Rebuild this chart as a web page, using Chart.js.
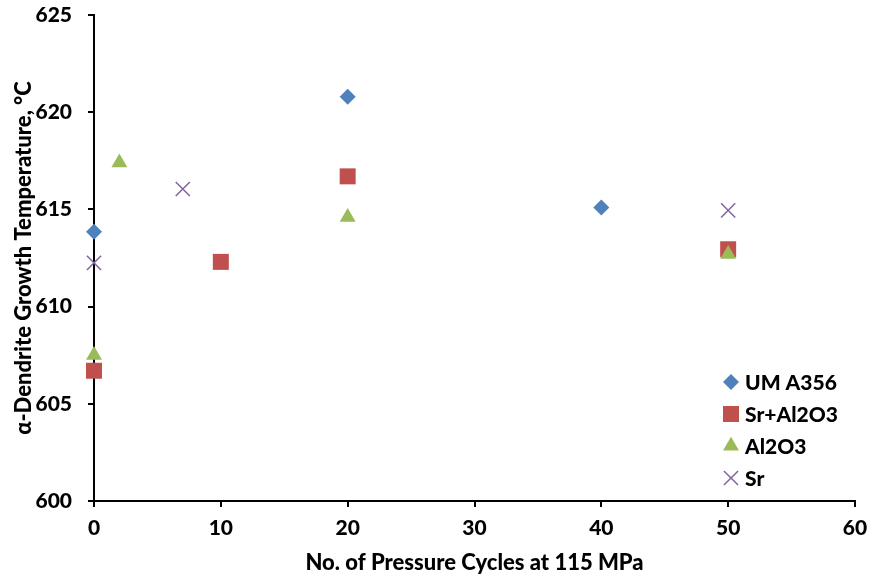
<!DOCTYPE html>
<html>
<head>
<meta charset="utf-8">
<script src="https://cdn.jsdelivr.net/npm/chart.js@4.4.1/dist/chart.umd.min.js"></script>
<style>
  html, body { margin: 0; padding: 0; background: #fff; }
  #wrap { width: 870px; height: 579px; position: relative; }
</style>
</head>
<body>
<div id="wrap"><canvas id="tempChart"></canvas></div>
<script>
// ── Data ─────────────────────────────────────────────────────
const seriesNames = ['UM A356', 'Sr+Al2O3', 'Al2O3', 'Sr'];

const cyclesUM   = [0, 20, 40];
const tempUM     = [613.85, 620.8, 615.1];

const cyclesSrAl = [0, 10, 20, 50];
const tempSrAl   = [606.7, 612.3, 616.7, 612.95];

const cyclesAl   = [0, 2, 20, 50];
const tempAl     = [607.5, 617.4, 614.6, 612.7];

const cyclesSr   = [0, 7, 50];
const tempSr     = [612.25, 616.05, 614.95];

const xTicks = [0, 10, 20, 30, 40, 50, 60];
const yTicks = [600, 605, 610, 615, 620, 625];

// ── Helpers ──────────────────────────────────────────────────
const FONT = "Lato, 'Open Sans', sans-serif";
const WEIGHT = 900;
const pts = (xs, ys) => xs.map((x, i) => ({ x, y: ys[i] }));

// legend drawn inside the plot, lower right
const floatingLegend = {
  id: 'floatingLegend',
  afterDraw(chart) {
    const { ctx, chartArea } = chart;
    const mx = chartArea.right - 124;
    ctx.save();
    ctx.font = WEIGHT + ' 21px ' + FONT;
    ctx.textBaseline = 'middle';
    ctx.textAlign = 'left';
    chart.data.datasets.forEach((ds, i) => {
      const y = chartArea.top + 367 + i * 32;
      ctx.fillStyle = ds.backgroundColor;
      ctx.strokeStyle = ds.borderColor;
      ctx.lineWidth = ds.borderWidth;
      Chart.helpers.drawPoint(ctx, {
        pointStyle: ds.pointStyle,
        radius: ds.pointRadius,
        borderWidth: ds.borderWidth,
        rotation: 0,
      }, mx, y);
      ctx.fillStyle = '#000';
      ctx.fillText(ds.label, mx + 14, y + 1);
    });
    ctx.restore();
  },
};

// ── Chart ────────────────────────────────────────────────────
const ctx = document.getElementById('tempChart').getContext('2d');

// later series sit on top of earlier ones, hence the descending `order`
const chart = new Chart(ctx, {
  type: 'scatter',
  data: {
    datasets: [
      {
        label: seriesNames[0],
        data: pts(cyclesUM, tempUM),
        order: 3,
        pointStyle: 'rectRot',
        pointRadius: 8,
        backgroundColor: '#4F81BD',
        borderColor: '#4F81BD',
        borderWidth: 0,
      },
      {
        label: seriesNames[1],
        data: pts(cyclesSrAl, tempSrAl),
        order: 2,
        pointStyle: 'rect',
        pointRadius: 11.3,
        backgroundColor: '#C0504D',
        borderColor: '#C0504D',
        borderWidth: 0,
      },
      {
        label: seriesNames[2],
        data: pts(cyclesAl, tempAl),
        order: 1,
        pointStyle: 'triangle',
        pointRadius: 9.2,
        backgroundColor: '#9BBB59',
        borderColor: '#9BBB59',
        borderWidth: 0,
      },
      {
        label: seriesNames[3],
        data: pts(cyclesSr, tempSr),
        order: 0,
        pointStyle: 'crossRot',
        pointRadius: 10,
        backgroundColor: '#8064A2',
        borderColor: '#8064A2',
        borderWidth: 1.5,
      },
    ],
  },
  options: {
    responsive: true,
    maintainAspectRatio: false,
    animation: false,
    clip: false,
    layout: { padding: { top: 15, right: 15, left: 0, bottom: 0 } },
    elements: { point: { hoverRadius: 8 } },
    scales: {
      x: {
        type: 'linear',
        min: 0,
        max: 60,
        afterBuildTicks: s => { s.ticks = xTicks.map(v => ({ value: v })); },
        afterFit: s => {
          s.height = 78;
          s.paddingLeft = 0;
          s.paddingRight = 0;
        },
        ticks: {
          color: '#000',
          font: { family: FONT, size: 21, weight: WEIGHT },
          padding: 9,
          maxRotation: 0,
        },
        grid: {
          drawOnChartArea: false,
          color: '#000',
          lineWidth: 2,
          tickLength: 6,
        },
        border: { color: '#000', width: 2 },
        title: {
          display: true,
          text: 'No. of Pressure Cycles at 115 MPa',
          color: '#000',
          font: { family: FONT, size: 22, weight: WEIGHT },
          padding: { top: 0, bottom: 3 },
        },
      },
      y: {
        type: 'linear',
        min: 600,
        max: 625,
        afterBuildTicks: s => { s.ticks = yTicks.map(v => ({ value: v })); },
        afterFit: s => {
          s.width = 94;
          s.paddingTop = 0;
          s.paddingBottom = 0;
        },
        ticks: {
          color: '#000',
          font: { family: FONT, size: 21, weight: WEIGHT },
          padding: 16,
        },
        grid: {
          drawOnChartArea: false,
          color: '#000',
          lineWidth: 2,
          tickLength: 6,
        },
        border: { color: '#000', width: 2 },
        title: {
          display: true,
          text: 'α-Dendrite Growth Temperature, °C',
          color: '#000',
          font: { family: FONT, size: 22, weight: WEIGHT },
          padding: { top: 11, bottom: 0 },
        },
      },
    },
    plugins: {
      legend: { display: false },
      tooltip: { enabled: false },
    },
  },
  plugins: [floatingLegend],
});
</script>
</body>
</html>
